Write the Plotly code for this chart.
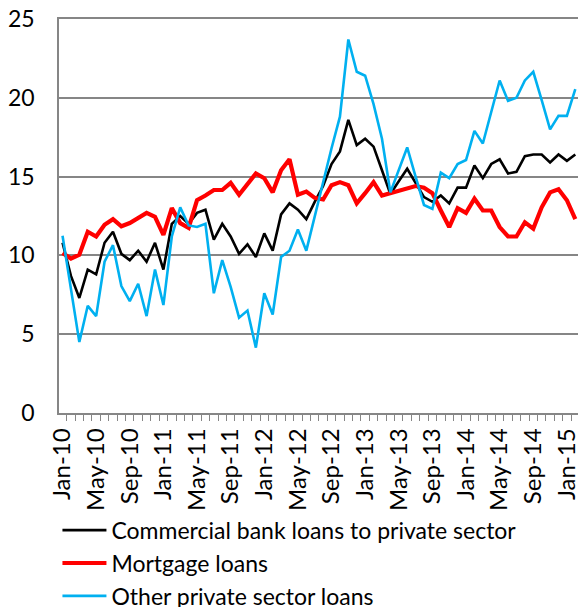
import plotly.graph_objects as go

# monthly categories Jan-10 .. Feb-15
month_names = ['Jan', 'Feb', 'Mar', 'Apr', 'May', 'Jun',
               'Jul', 'Aug', 'Sep', 'Oct', 'Nov', 'Dec']
years = ['10', '11', '12', '13', '14', '15']
months = [f'{m}-{y}' for y in years for m in month_names][:62]

commercial = [10.8, 8.7, 7.3, 9.1, 8.8, 10.8, 11.5, 10.1, 9.7, 10.3, 9.6, 10.8,
              9.1, 12.0, 12.5, 12.0, 12.7, 12.9, 11.0, 12.0, 11.2, 10.1, 10.7, 9.9,
              11.4, 10.3, 12.6, 13.3, 12.9, 12.3, 13.4, 14.4, 15.8, 16.6, 18.6, 17.0,
              17.4, 16.9, 15.4, 13.9, 14.7, 15.5, 14.6, 13.7, 13.4, 13.8, 13.3, 14.3,
              14.3, 15.7, 14.9, 15.8, 16.1, 15.2, 15.3, 16.3, 16.4, 16.4, 15.9, 16.4,
              16.0, 16.4]

mortgage = [10.15, 9.8, 10.05, 11.5, 11.2, 11.95, 12.3, 11.85, 12.05, 12.35, 12.7, 12.45,
            11.3, 13.0, 12.05, 11.75, 13.5, 13.8, 14.15, 14.15, 14.6, 13.85, 14.5, 15.2,
            14.9, 14.0, 15.4, 16.1, 13.85, 14.05, 13.65, 13.55, 14.45, 14.65, 14.45, 13.3,
            13.95, 14.65, 13.8, 13.95, 14.15, 14.3, 14.4, 14.3, 13.95, 12.85, 11.8, 13.0,
            12.7, 13.6, 12.85, 12.85, 11.8, 11.2, 11.2, 12.1, 11.7, 13.05, 14.0, 14.2,
            13.5, 12.3]

other = [11.25, 7.8, 4.5, 6.8, 6.15, 9.6, 10.65, 8.05, 7.1, 8.2, 6.15, 9.1,
         6.85, 11.2, 13.05, 11.9, 11.8, 12.0, 7.6, 9.7, 8.0, 6.05, 6.5, 4.15,
         7.6, 6.25, 9.9, 10.3, 11.65, 10.3, 12.5, 14.6, 16.8, 18.8, 23.7, 21.65,
         21.4, 19.6, 17.4, 14.0, 15.4, 16.85, 15.0, 13.2, 12.95, 15.25, 14.9, 15.8,
         16.05, 17.9, 17.1, 19.1, 21.1, 19.8, 20.0, 21.1, 21.65, 19.85, 18.0, 18.85,
         18.85, 20.55]

series = [
    ('Commercial bank loans to private sector', commercial, '#000000', 2.6),
    ('Mortgage loans', mortgage, '#ff0000', 4.2),
    ('Other private sector loans', other, '#00b0f0', 2.6),
]

x = list(range(len(months)))
tick_pos = x[::4]
tick_text = months[::4]

fig = go.Figure()
for name, vals, color, width in series:
    fig.add_trace(go.Scatter(x=x, y=vals, name=name, mode='lines',
                             line=dict(color=color, width=width)))

grey = '#868686'
fig.update_layout(
    width=578, height=607,
    margin=dict(l=59, r=0, t=19, b=194),
    paper_bgcolor='white', plot_bgcolor='white',
    font=dict(family='Lato', size=24, color='black'),
    showlegend=True,
    legend=dict(x=-0.003, xanchor='left', xref='paper',
                y=0.162, yanchor='top', yref='container',
                orientation='v', itemwidth=44, tracegroupgap=0,
                font=dict(size=23), bgcolor='rgba(0,0,0,0)'),
)
fig.update_xaxes(
    range=[-0.42, 61.32], automargin=False,
    tickmode='array', tickvals=tick_pos, ticktext=tick_text,
    tickangle=-90, ticks='', ticklabelstandoff=4, ticklabeloverflow='allow',
    tickfont=dict(size=24),
    showline=True, linecolor=grey, linewidth=1.5, mirror=True,
    showgrid=False, zeroline=False,
    minor=dict(ticks='outside', tick0=0.5, dtick=1, ticklen=6,
               tickcolor=grey, tickwidth=1, showgrid=False),
)
fig.update_yaxes(
    range=[0, 25], dtick=5, automargin=False,
    tickfont=dict(size=23), ticklabeloverflow='allow',
    showline=True, linecolor=grey, linewidth=1.5,
    showgrid=True, gridcolor=grey, gridwidth=1.5,
    zeroline=False, ticks='', ticklabelstandoff=18,
)

# drop the browser's default 8px body margin so the chart fills the window
fig.write_html('out.html', config={'displayModeBar': False},
               post_script="document.body.style.margin = '0';")
